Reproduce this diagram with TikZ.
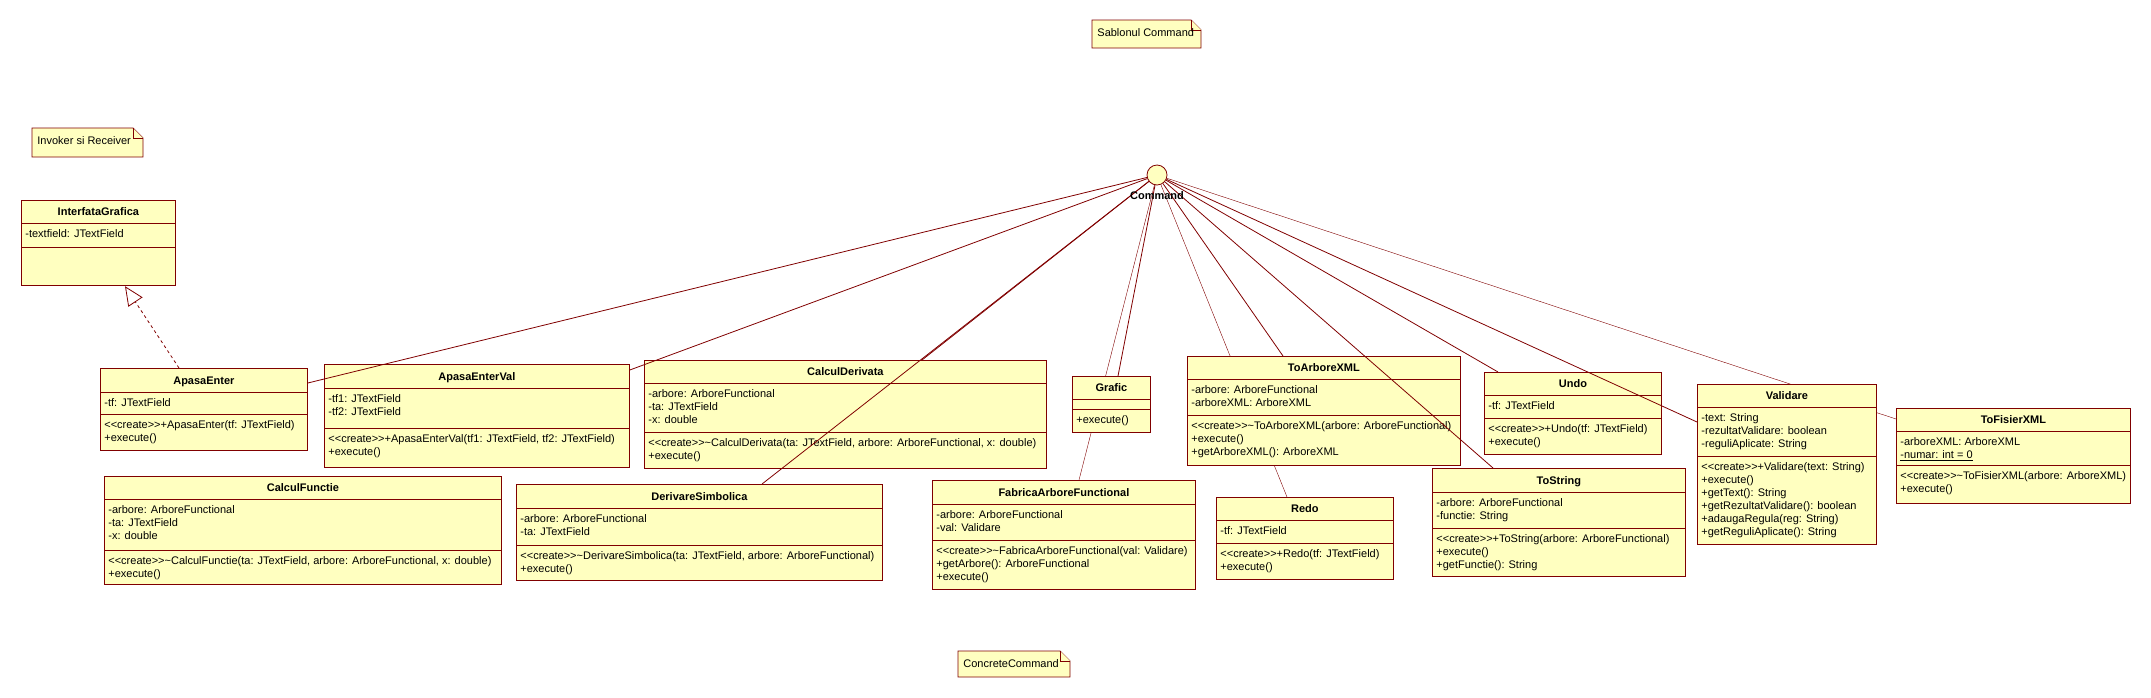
\documentclass[tikz,border=0pt]{standalone}
\usepackage{fontspec}
\setmainfont{Liberation Sans}
\usetikzlibrary{shapes.multipart,arrows.meta,backgrounds}

\definecolor{umlfill}{RGB}{255,255,192}
\definecolor{umlline}{RGB}{128,0,0}

\newcommand{\umlfont}{\fontsize{11}{13}\selectfont}
\newcommand{\stcreate}{<{}<create>{}>}
% compartments of a class box: width, height, content
\newcommand{\ctitle}[3]{\parbox[c][#2pt][c]{#1pt}{\centering\bfseries\rule{0pt}{8pt}\smash{#3}}}
\newcommand{\cbody}[3]{\parbox[c][#2pt][t]{#1pt}{\vspace*{5pt}\begin{tabular}[t]{@{\hspace{4pt}}l@{}}#3\end{tabular}}}
\newcommand{\cempty}[2]{\parbox[c][#2pt][t]{#1pt}{\mbox{}}}
% note with folded corner: name, x1, y1, x2, y2, text
\newcommand{\umlnote}[6]{%
  \filldraw[notebox] (#2,#3) -- (#4-10,#3) -- (#4,#3+10) -- (#4,#5) -- (#2,#5) -- cycle;
  \draw[notebox] (#4-10,#3) -- (#4-10,#3+10) -- (#4,#3+10);
  \node[anchor=base west, inner sep=0pt] (#1) at (#2+5,#3+16) {#6};}

\begin{document}
\begin{tikzpicture}[x=1pt, y=-1pt, line width=0.8pt,
  every node/.style={font=\umlfont},
  classbox/.style={rectangle split, rectangle split parts=3, draw=umlline, fill=umlfill, inner sep=0pt, anchor=north west},
  assoc/.style={draw=umlline},
  realize/.style={draw=umlline, dash pattern=on 3pt off 3pt, -{Triangle[open, fill=white, length=19pt, width=17pt]}},
  notebox/.style={draw=umlline, fill=umlfill},
  iface/.style={circle, draw=umlline, fill=umlfill, minimum size=20pt, inner sep=0pt}]
\useasboundingbox (0,0) rectangle (2151,697);

\umlnote{sablon}{1092}{20}{1201}{48}{Sablonul Command}
\umlnote{invoker}{32}{128}{143}{157}{Invoker si Receiver}
\umlnote{concrete}{958}{651}{1070}{677}{ConcreteCommand}

\node[iface] (command) at (1157,175) {};

\node[classbox] (interfata) at (21,200) {\ctitle{154}{22}{InterfataGrafica}
  \nodepart{two}\cbody{154}{23}{-textfield: JTextField}
  \nodepart{three}\cempty{154}{38}};
\node[classbox] (apasa) at (100,368) {\ctitle{207}{23}{ApasaEnter}
  \nodepart{two}\cbody{207}{21}{-tf: JTextField}
  \nodepart{three}\cbody{207}{36}{\stcreate+ApasaEnter(tf: JTextField)\\+execute()}};
\node[classbox] (apasaval) at (324,364) {\ctitle{305}{23}{ApasaEnterVal}
  \nodepart{two}\cbody{305}{39}{-tf1: JTextField\\-tf2: JTextField}
  \nodepart{three}\cbody{305}{39}{\stcreate+ApasaEnterVal(tf1: JTextField, tf2: JTextField)\\+execute()}};
\node[classbox] (calcderiv) at (644,360) {\ctitle{402}{22}{CalculDerivata}
  \nodepart{two}\cbody{402}{48}{-arbore: ArboreFunctional\\-ta: JTextField\\-x: double}
  \nodepart{three}\cbody{402}{36}{\stcreate\textasciitilde CalculDerivata(ta: JTextField, arbore: ArboreFunctional, x: double)\\+execute()}};
\node[classbox] (calcfunc) at (104,476) {\ctitle{397}{22}{CalculFunctie}
  \nodepart{two}\cbody{397}{50}{-arbore: ArboreFunctional\\-ta: JTextField\\-x: double}
  \nodepart{three}\cbody{397}{34}{\stcreate\textasciitilde CalculFunctie(ta: JTextField, arbore: ArboreFunctional, x: double)\\+execute()}};
\node[classbox] (derivare) at (516,484) {\ctitle{366}{23}{DerivareSimbolica}
  \nodepart{two}\cbody{366}{36}{-arbore: ArboreFunctional\\-ta: JTextField}
  \nodepart{three}\cbody{366}{35}{\stcreate\textasciitilde DerivareSimbolica(ta: JTextField, arbore: ArboreFunctional)\\+execute()}};
\node[classbox] (grafic) at (1072,376) {\ctitle{78}{22}{Grafic}
  \nodepart{two}\cempty{78}{9}
  \nodepart{three}\cbody{78}{23}{+execute()}};
\node[classbox] (fabrica) at (932,480) {\ctitle{263}{23}{FabricaArboreFunctional}
  \nodepart{two}\cbody{263}{35}{-arbore: ArboreFunctional\\-val: Validare}
  \nodepart{three}\cbody{263}{49}{\stcreate\textasciitilde FabricaArboreFunctional(val: Validare)\\+getArbore(): ArboreFunctional\\+execute()}};
\node[classbox] (toarbore) at (1187,356) {\ctitle{273}{22}{ToArboreXML}
  \nodepart{two}\cbody{273}{35}{-arbore: ArboreFunctional\\-arboreXML: ArboreXML}
  \nodepart{three}\cbody{273}{50}{\stcreate\textasciitilde ToArboreXML(arbore: ArboreFunctional)\\+execute()\\+getArboreXML(): ArboreXML}};
\node[classbox] (redo) at (1216,497) {\ctitle{177}{22}{Redo}
  \nodepart{two}\cbody{177}{22}{-tf: JTextField}
  \nodepart{three}\cbody{177}{36}{\stcreate+Redo(tf: JTextField)\\+execute()}};
\node[classbox] (tostring) at (1432,468) {\ctitle{253}{23}{ToString}
  \nodepart{two}\cbody{253}{35}{-arbore: ArboreFunctional\\-functie: String}
  \nodepart{three}\cbody{253}{48}{\stcreate+ToString(arbore: ArboreFunctional)\\+execute()\\+getFunctie(): String}};
\node[classbox] (undo) at (1484,372) {\ctitle{177}{22}{Undo}
  \nodepart{two}\cbody{177}{22}{-tf: JTextField}
  \nodepart{three}\cbody{177}{36}{\stcreate+Undo(tf: JTextField)\\+execute()}};
\node[classbox] (validare) at (1697,384) {\ctitle{179}{22}{Validare}
  \nodepart{two}\cbody{179}{48}{-text: String\\-rezultatValidare: boolean\\-reguliAplicate: String}
  \nodepart{three}\cbody{179}{88}{\stcreate+Validare(text: String)\\+execute()\\+getText(): String\\+getRezultatValidare(): boolean\\+adaugaRegula(reg: String)\\+getReguliAplicate(): String}};
\node[classbox] (tofisier) at (1896,408) {\ctitle{234}{22}{ToFisierXML}
  \nodepart{two}\cbody{234}{33}{-arboreXML: ArboreXML\\\underline{-numar: int = 0}}
  \nodepart{three}\cbody{234}{38}{\stcreate\textasciitilde ToFisierXML(arbore: ArboreXML)\\+execute()}};

% these run behind the boxes
\begin{scope}[on background layer]
  \draw[assoc] (command) -- ([xshift=147pt]fabrica.north west);
  \draw[assoc] (command) -- ([xshift=71pt]redo.north west);
  \draw[assoc] (command) -- ([yshift=-11pt]tofisier.north west);
\end{scope}

\draw[assoc] (command) -- ([yshift=-15pt]apasa.north east);
\draw[assoc] (command) -- ([yshift=-6pt]apasaval.north east);
\draw[assoc] (command) -- ([xshift=278pt]calcderiv.north west);
\draw[assoc] (command) -- ([xshift=246pt]derivare.north west);
\draw[assoc] (command) -- ([xshift=46pt]grafic.north west);
\draw[assoc] (command) -- ([xshift=96pt]toarbore.north west);
\draw[assoc] (command) -- ([xshift=61pt]tostring.north west);
\draw[assoc] (command) -- ([xshift=14pt]undo.north west);
\draw[assoc] (command) -- ([yshift=-38pt]validare.north west);
\draw[realize] ([xshift=79pt]apasa.north west) -- ([xshift=104pt]interfata.south west);

\node[font=\umlfont\bfseries] (cmdlabel) at (1157,196) {Command};
\end{tikzpicture}
\end{document}
